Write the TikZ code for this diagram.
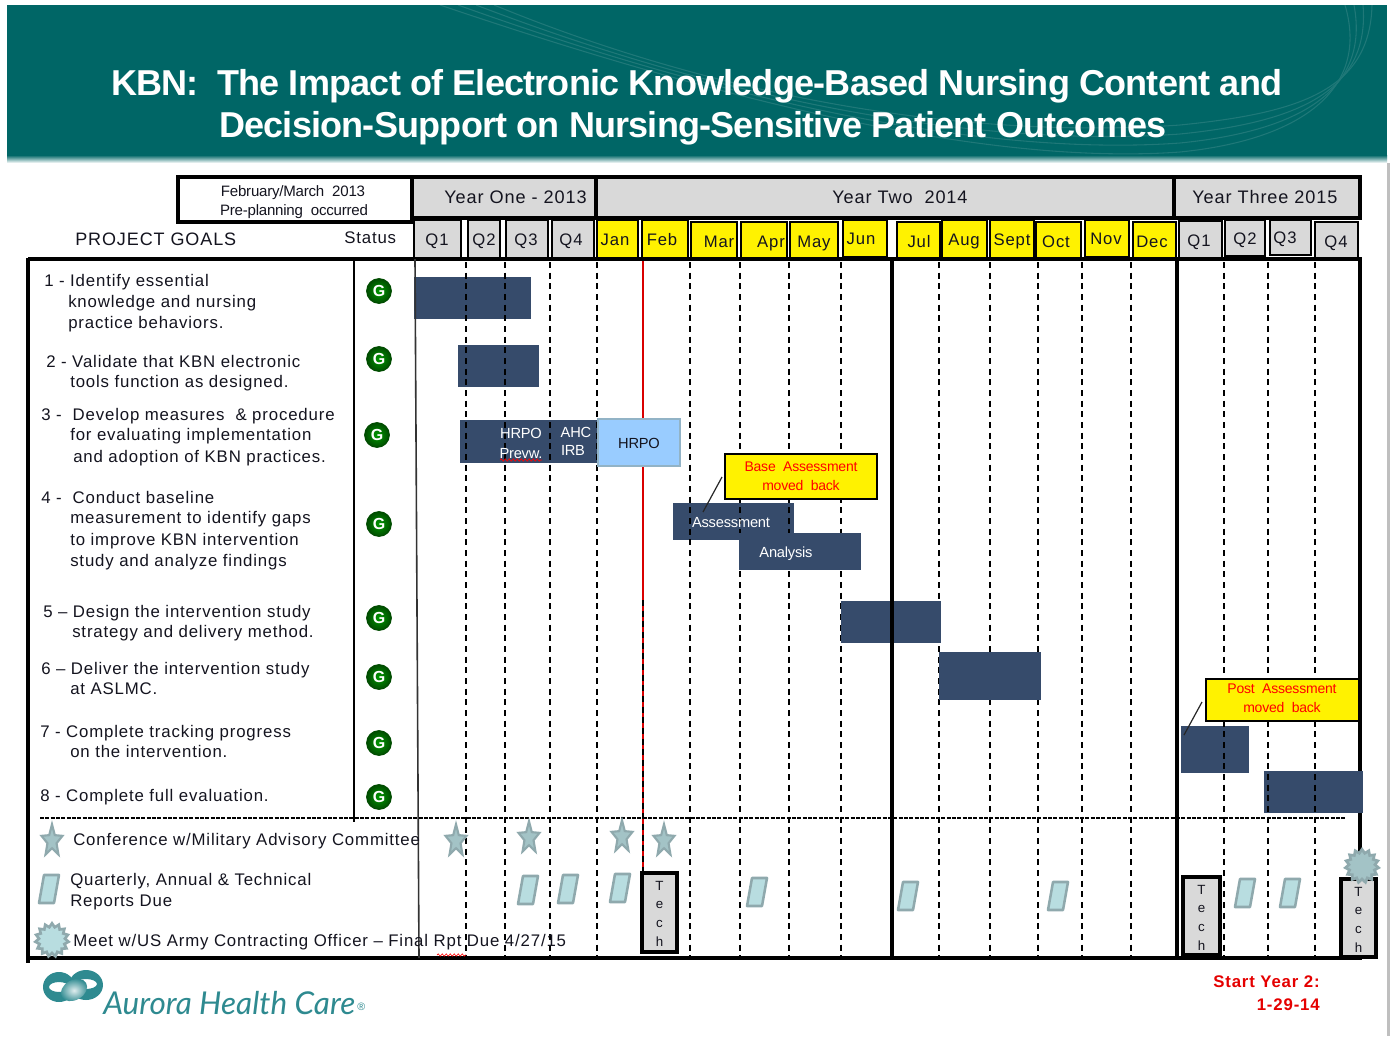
\documentclass[tikz,border=0pt]{standalone}
\usepackage{fontspec}
\setmainfont{Liberation Sans}
\newfontfamily\rowf[LetterSpace=5]{Liberation Sans}
\newfontfamily\tightf[LetterSpace=-1.5]{Liberation Sans}
\newfontfamily\titlef[LetterSpace=-2.2]{Liberation Sans}
\newfontfamily\logof{Lato}
\usetikzlibrary{shapes.geometric,decorations.pathmorphing}
\definecolor{band}{HTML}{006666}
\definecolor{barblue}{HTML}{364B6B}
\definecolor{cellgrey}{HTML}{D9D9D9}
\definecolor{ink}{HTML}{14141F}
\definecolor{markedge}{HTML}{8FA9AD}
\definecolor{markfill}{HTML}{B8DDE0}
\definecolor{lightblue}{HTML}{99CCFF}
\definecolor{logoteal}{HTML}{2E8A90}
\tikzset{
  x=.75pt,y=-.75pt,
  rowtext/.style={anchor=base west,inner sep=0pt,text=ink,font=\rowf\fontsize{12.6}{14}\selectfont},
  cellbox/.style={draw=black,line width=1.6pt},
  celltext/.style={anchor=base,inner sep=0pt,text=ink,font=\rowf\fontsize{12.5}{14}\selectfont},
  yeartext/.style={anchor=base west,inner sep=0pt,text=ink,font=\rowf\fontsize{13.6}{14}\selectfont},
  smallgrey/.style={anchor=base,inner sep=0pt,text=ink,font=\tightf\fontsize{11.3}{12}\selectfont},
  titletext/.style={anchor=base west,inner sep=0pt,text=white,font=\titlef\bfseries\fontsize{27}{30}\selectfont},
  bartext/.style={anchor=base,inner sep=0pt,text=white,font=\tightf\fontsize{11}{12}\selectfont},
  calltext/.style={anchor=base,inner sep=0pt,text=red,font=\tightf\fontsize{10.5}{12}\selectfont},
  bar/.style={fill=barblue},
  gridline/.style={draw=black,line width=1.3pt,dash pattern=on 4.5pt off 3.5pt},
  frameline/.style={draw=black,line width=2.4pt},
  callout/.style={draw=black,line width=1.3pt,fill=yellow},
  statusdot/.style={circle,minimum size=18.5pt,inner sep=0pt,draw=black!70!green,line width=.8pt,inner color=green!60!black,outer color=green!30!black,text=white,font=\bfseries\fontsize{12}{12}\selectfont},
  starmark/.style={star,star points=5,star point ratio=2.3,minimum size=25pt,inner sep=0pt,draw=markedge,fill=markedge!50!markfill,line width=1.6pt,xscale=.66,transform shape},
  reportmark/.style={draw=markedge,fill=markfill,line width=1.9pt,line join=round},
  burst/.style={star,star points=15,star point ratio=1.28,minimum size=25pt,inner sep=0pt,draw=markedge,fill=markfill,line width=2pt},
  techbox/.style={draw=black,line width=2.4pt,fill=cellgrey},
  techtext/.style={anchor=base,inner sep=0pt,text=ink,font=\fontsize{10}{10}\selectfont},
}
\begin{document}
\begin{tikzpicture}
\useasboundingbox (0,0) rectangle (1393,1036);
\fill[white] (0,0) rectangle (1393,1036);
% title band
\fill[band] (7,5) rectangle (1387,155);
\shade[top color=band,bottom color=white] (7,155) rectangle (1387,163);
\begin{scope}
\clip (7,5) rectangle (1387,158);
\foreach \d in {0,9,18,27}{
  \draw[band!88!white,line width=.8pt] (440+\d*2,5) .. controls (750,110) and (1000,165-\d) .. (1180,152-\d) .. controls (1300,140-\d) and (1370,90) .. (1345+\d,5);
}
\end{scope}
\fill[black!25] (1387,163) rectangle (1390,1036);
\node[titletext] (t1) at (111,95) {KBN:\ \ The Impact of Electronic Knowledge-Based Nursing Content and};
\node[titletext] (t2) at (219,137) {Decision-Support on Nursing-Sensitive Patient Outcomes};
% year header
\draw[frameline,fill=white] (178,177) rectangle (412,222);
\node[smallgrey] (pre1) at (293,196) {February/March\ \ 2013};
\node[smallgrey] (pre2) at (294,215) {Pre-planning\ \ occurred};
\draw[frameline,fill=cellgrey] (412,177) rectangle (596,218);
\draw[frameline,fill=cellgrey] (596,177) rectangle (1174,218);
\draw[frameline,fill=cellgrey] (1174,177) rectangle (1360,218);
\node[yeartext] (y1) at (444,203) {Year One - 2013};
\node[yeartext] (y2) at (832,203) {Year Two\ \ 2014};
\node[yeartext] (y3) at (1192,203) {Year Three 2015};
\node[rowtext,font=\rowf\fontsize{13.5}{14}\selectfont] (pg) at (75,245) {PROJECT GOALS};
\node[rowtext] (st) at (344,243) {Status};
% period cells
\foreach \n/\a/\b/\c/\d/\m/\l/\f in {
 qa/414/461/220/259/437/Q1/cellgrey, qb/468/500/220/259/484/Q2/cellgrey, qc/506/548/220/259/526/Q3/cellgrey, qd/552/594/220/259/571/Q4/cellgrey,
 ja/597/638/220/258/615/Jan/yellow, fe/642/688/220/258/662/Feb/yellow, ma/691/737/222/260/719/Mar/yellow, ap/741/787/222/260/771/Apr/yellow,
 my/790/838/222/260/814/May/yellow, jn/843/887/220/257/861/Jun/yellow, jl/897/940/222/260/919/Jul/yellow, au/942/987/220/258/964/Aug/yellow,
 se/990/1034/220/258/1012/Sept/yellow, oc/1036/1081/222/260/1056/Oct/yellow, no/1085/1129/220/257/1106/Nov/yellow, de/1133/1176/222/260/1152/Dec/yellow,
 qe/1179/1222/221/259/1199/Q1/cellgrey, qf/1225/1265/220/256/1245/Q2/cellgrey, qg/1270/1311/220/255/1285/Q3/cellgrey, qh/1315/1358/222/260/1336/Q4/cellgrey}{
  \draw[cellbox,fill=\f] (\a,\c) rectangle (\b,\d);
  \node[celltext] (cell\n) at (\m,{(\c+\d)/2+6}) {\l};
}
% bars the grid shows through
\fill[bar] (414,277) rectangle (531,319);
\fill[bar] (458,345) rectangle (539,387);
\fill[bar] (460,420) rectangle (597,463);
\fill[bar] (673,503) rectangle (794,540);
\fill[bar] (1181,726) rectangle (1249,773);
\fill[bar] (1264,771) rectangle (1363,813);
% grid
\draw[red!85!black,line width=1.3pt] (643,260) -- (643,873);
\draw[gridline] (643,600) -- (643,873);
\foreach \x in {466,505,550,597,690,740,789,841,939,990,1038,1082,1131,1224,1268,1315}{
  \draw[gridline] (\x,262) -- (\x,956);
}
% bars that hide the grid
\fill[bar] (739,533) rectangle (861,570);
\fill[bar] (841,601) rectangle (941,643);
\fill[bar] (939,652) rectangle (1041,700);
% frame
\draw[frameline] (28,259) -- (1362,259);
\draw[frameline] (28,258) -- (28,963);
\draw[frameline] (26,958) -- (1362,958);
\draw[frameline] (1360,259) -- (1360,771);
\draw[frameline] (1360,813) -- (1360,880);
\draw[frameline] (892,259) -- (892,958);
\draw[frameline,line width=3pt] (1177,259) -- (1177,958);
\draw[black,line width=1.2pt] (354,259) -- (354,822);
\draw[black!80,line width=1.2pt] (415,259) -- (419,958);
\draw[black,line width=1.2pt,dash pattern=on 3pt off 1pt] (40,818) -- (1345,818);
% text of bars
\node[bartext] (h1) at (521,438) {HRPO};
\node[bartext] (h2) at (521,458) {Prevw.};
\node[bartext] (a1) at (576,437) {AHC};
\node[bartext] (a2) at (573,455) {IRB};
\draw[red,line width=.5pt,decorate,decoration={snake,amplitude=.8pt,segment length=3pt}] (500,460) -- (542,460);
\draw[draw=markedge!70!lightblue,line width=1pt,fill=lightblue] (598,419) rectangle (680,466);
\node[bartext,text=ink] (hr) at (639,448) {HRPO};
\node[bartext] (as) at (731,527) {Assessment};
\node[bartext] (an) at (786,557) {Analysis};
% callouts
\draw[callout] (725,454) rectangle (877,499);
\node[calltext] (ba1) at (801,471) {Base\ \ Assessment};
\node[calltext] (ba2) at (801,490) {moved\ \ back};
\draw[callout] (1206,679) rectangle (1359,721);
\node[calltext] (po1) at (1282,693) {Post\ \ Assessment};
\node[calltext] (po2) at (1282,712) {moved\ \ back};
\coordinate (lea) at (722,477);
\coordinate (leb) at (703,512);
\coordinate (lec) at (1202,702);
\coordinate (led) at (1184,735);
\draw[black!85,line width=.9pt] (lea) -- (leb);
\draw[black!85,line width=.9pt] (lec) -- (led);
% goals
\foreach \n/\x/\y/\t in {
 ga/44/286/{1 - Identify essential}, gb/68/307/{knowledge and nursing}, gc/68/328/{practice behaviors.},
 gd/46/367/{2 - Validate that KBN electronic}, ge/70/387/{tools function as designed.},
 gf/41/420/{3 -\ \ Develop measures\ \ \& procedure}, gg/70/440/{for evaluating implementation}, gh/73/462/{and adoption of KBN practices.},
 gi/41/503/{4 -\ \ Conduct baseline}, gj/70/523/{measurement to identify gaps}, gk/70/545/{to improve KBN intervention}, gl/70/566/{study and analyze findings},
 gm/43/617/{5 – Design the intervention study}, gn/72/637/{strategy and delivery method.},
 go/41/674/{6 – Deliver the intervention study}, gp/70/694/{at ASLMC.},
 gq/40/737/{7 - Complete tracking progress}, gr/70/757/{on the intervention.},
 gs/40/801/{8 - Complete full evaluation.},
 gt/73/845/{Conference w/Military Advisory Committee},
 gu/70/885/{Quarterly, Annual \& Technical}, gv/70/906/{Reports Due},
 gw/73/946/{Meet w/US Army Contracting Officer – Final Rpt Due 4/27/15}}{
  \node[rowtext] (\n) at (\x,\y) {\t};
}
\draw[red,line width=.5pt,decorate,decoration={snake,amplitude=.8pt,segment length=3pt}] (437,955) -- (466,955);
% status
\foreach \n/\x/\y in {sa/379/291,sb/379/359,sc/377/435,sd/379/524,se/379/618,sf/379/677,sg/379/743,sh/379/797}{
  \node[statusdot] (\n) at (\x,\y) {G};
}
% stars
\foreach \n/\x/\y in {ma/52/841,mb/456/841,mc/529/838,md/622/837,me/664/841}{
  \node[starmark] (star\n) at (\x,\y) {};
}
% reports
\foreach \x/\y in {49/889,528/890,568/889,620/888,757/892,908/896,1058/896,1245/893,1290/893}{
  \draw[reportmark,shift={(\x,\y)}] (-5,-14) -- (10,-14) -- (5,14) -- (-10,14) -- cycle;
}
% tech boxes
\foreach \n/\a/\b/\c/\d in {ta/642/677/873/952,tb/1183/1220/877/955,tc/1341/1376/879/957}{
  \draw[techbox] (\a,\c) rectangle (\b,\d);
  \node[techtext] (\n1) at ({(\a+\b)/2},{\c+17}) {T};
  \node[techtext] (\n2) at ({(\a+\b)/2},{\c+35}) {e};
  \node[techtext] (\n3) at ({(\a+\b)/2},{\c+54}) {c};
  \node[techtext] (\n4) at ({(\a+\b)/2},{\c+73}) {h};
}
% bursts
\node[burst] (bua) at (52,940) {};
\node[burst,fill=markedge!50!markfill] (bub) at (1362,866) {};
% logo
\fill[logoteal,even odd rule] (59,987) ellipse [x radius=16,y radius=15] (59,987) ellipse [x radius=10,y radius=5];
\fill[logoteal,even odd rule] (86,985) ellipse [x radius=17,y radius=15] (86,984) ellipse [x radius=11,y radius=5];
\shade[inner color=white!85!logoteal,outer color=logoteal,rotate around={30:(74,990)}] (74,990) ellipse [x radius=14,y radius=10];
\node[anchor=base west,inner sep=0pt,text=logoteal,font=\logof\itshape\fontsize{23.6}{24}\selectfont] (lg) at (103,1014) {Aurora Health Care};
\node[anchor=base west,inner sep=0pt,text=logoteal,font=\fontsize{8}{8}\selectfont] (lr) at (357,1010) {®};
% start note
\node[anchor=base east,inner sep=0pt,text=red!90!black,font=\rowf\bfseries\fontsize{12.6}{14}\selectfont] (sy1) at (1320,987) {Start Year 2:};
\node[anchor=base east,inner sep=0pt,text=red!90!black,font=\rowf\bfseries\fontsize{12.6}{14}\selectfont] (sy2) at (1320,1010) {1-29-14};
\end{tikzpicture}
\end{document}
